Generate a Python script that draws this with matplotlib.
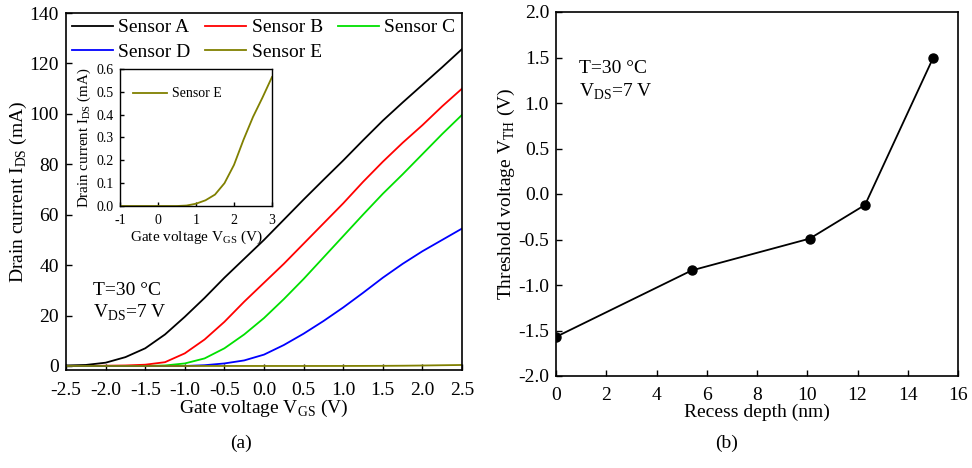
import matplotlib
matplotlib.use("Agg")
import matplotlib.pyplot as plt
import numpy as np

plt.rcParams["font.family"] = ["Liberation Serif", "DejaVu Serif"]
plt.rcParams["mathtext.fontset"] = "custom"
plt.rcParams["mathtext.rm"] = "Liberation Serif"
plt.rcParams["axes.unicode_minus"] = False

# (a) transfer curves, gate voltage in V, drain current in mA
vgs = [-2.5, -2.25, -2.0, -1.75, -1.5, -1.25, -1.0, -0.75, -0.5, -0.25, 0.0,
       0.25, 0.5, 0.75, 1.0, 1.25, 1.5, 1.75, 2.0, 2.25, 2.5, 2.75, 3.0]
sensor_a = [0.2, 0.4, 1.3, 3.5, 7.0, 12.5, 19.5, 27.0, 35.0, 42.5, 50.0,
            58.0, 66.0, 73.8, 81.5, 89.5, 97.3, 104.5, 111.5, 118.5, 125.7, np.nan, np.nan]
sensor_b = [0.0, 0.0, 0.1, 0.2, 0.5, 1.5, 5.0, 10.5, 17.5, 25.5, 33.0,
            40.5, 48.5, 56.5, 64.5, 73.0, 81.0, 88.5, 95.5, 103.0, 110.0, np.nan, np.nan]
sensor_c = [0.0, 0.0, 0.0, 0.0, 0.0, 0.2, 1.0, 3.0, 7.0, 12.5, 19.0,
            26.5, 34.5, 43.0, 51.5, 60.0, 68.3, 76.0, 84.0, 92.0, 99.6, np.nan, np.nan]
sensor_d = [0.0, 0.0, 0.0, 0.0, 0.0, 0.0, 0.0, 0.3, 1.0, 2.2, 4.5,
            8.3, 12.8, 17.8, 23.2, 29.0, 35.0, 40.5, 45.5, 50.0, 54.5, np.nan, np.nan]
sensor_e = [0.0, 0.0, 0.0, 0.0, 0.0, 0.0, 0.0, 0.0, 0.0, 0.0, 0.0,
            0.0, 0.0, 0.002, 0.01, 0.025, 0.05, 0.1, 0.18, 0.29, 0.39, 0.475, 0.565]

# (b) threshold voltage vs recess depth
depth = [0.0, 5.4, 10.1, 12.3, 15.0]
vth = [-1.57, -0.84, -0.49, -0.12, 1.49]

fig = plt.figure(figsize=(9.72, 4.68), dpi=100)

def style(ax, size, lw=1.2):
    for s in ax.spines.values():
        s.set_linewidth(lw)
    ax.tick_params(direction="in", length=4, width=1.0, labelsize=size, pad=5,
                   top=False, right=False)

# ---- panel (a)
ax1 = fig.add_axes([66 / 972, 98 / 468, 396 / 972, 357 / 468])
lines = []
for vals, col, lab in [(sensor_a, "black", "Sensor A"), (sensor_b, "#ff0000", "Sensor B"),
                       (sensor_c, "#00e000", "Sensor C"), (sensor_d, "#0000ff", "Sensor D"),
                       (sensor_e, "#808000", "Sensor E")]:
    ln, = ax1.plot(vgs, vals, color=col, lw=1.3, label=lab)
    lines.append(ln)
ax1.set_xlim(-2.5, 2.5)
ax1.set_ylim(-1.6, 140)
ax1.set_xticks(np.arange(-2.5, 2.51, 0.5))
ax1.set_xticklabels([f"{v:.1f}" for v in np.arange(-2.5, 2.51, 0.5)])
ax1.set_yticks(np.arange(0, 141, 20))
style(ax1, 14)
ax1.tick_params(axis="x", pad=8.5)
ax1.set_xlabel(r"Gate voltage V$_{\mathrm{GS}}$ (V)", fontsize=14)
ax1.set_ylabel(r"Drain current I$_{\mathrm{DS}}$ (mA)", fontsize=14)
ax1.xaxis.set_label_coords(0.5, -0.078)
ax1.yaxis.set_label_coords(-0.093, 0.5)
# reorder so the 3-column legend reads row by row
order = [0, 3, 1, 4, 2]
ax1.legend([lines[i] for i in order], [lines[i].get_label() for i in order],
           loc="upper left", bbox_to_anchor=(0, 1), ncol=3, frameon=False, fontsize=14,
           handlelength=2.1, handletextpad=0.3, columnspacing=0.75, labelspacing=0.35,
           borderpad=0.1, borderaxespad=0.2)
ax1.text(0.068, 0.21, "T=30 °C", transform=ax1.transAxes, fontsize=14, va="baseline")
ax1.text(0.068, 0.146, r"V$_{\mathrm{DS}}$=7 V", transform=ax1.transAxes, fontsize=14,
         va="baseline")

# inset
axi = fig.add_axes([120 / 972, 262 / 468, 152 / 972, 137 / 468])
axi.plot(vgs, sensor_e, color="#808000", lw=1.3, label="Sensor E")
axi.set_xlim(-1, 3)
axi.set_ylim(0, 0.6)
axi.set_xticks([-1, 0, 1, 2, 3])
axi.set_yticks(np.arange(0, 0.61, 0.1))
axi.set_yticklabels([f"{v:.1f}" for v in np.arange(0, 0.61, 0.1)])
style(axi, 10, lw=1.0)
axi.tick_params(length=3, pad=4.5)
axi.tick_params(axis="x", pad=5.5)
axi.set_xlabel(r"Gate voltage V$_{\mathrm{GS}}$ (V)", fontsize=11)
axi.set_ylabel(r"Drain current I$_{\mathrm{DS}}$ (mA)", fontsize=10.8)
axi.xaxis.set_label_coords(0.5, -0.165)
axi.yaxis.set_label_coords(-0.18, 0.5)
axi.legend(loc="center left", frameon=False, fontsize=10, handlelength=2.45,
           handletextpad=0.35, borderaxespad=0, borderpad=0, bbox_to_anchor=(0.085, 0.818))

# ---- panel (b)
ax2 = fig.add_axes([556 / 972, 92 / 468, 402 / 972, 364 / 468])
ax2.plot(depth, vth, color="black", lw=1.3, marker="o", markersize=6.5, clip_on=True)
ax2.set_xlim(0, 16)
ax2.set_ylim(-2, 2)
ax2.set_xticks(np.arange(0, 17, 2))
ax2.set_yticks(np.arange(-2, 2.01, 0.5))
ax2.set_yticklabels([f"{v:.1f}" for v in np.arange(-2, 2.01, 0.5)])
style(ax2, 14)
ax2.tick_params(axis="x", pad=8)
ax2.set_xlabel("Recess depth (nm)", fontsize=14)
ax2.set_ylabel(r"Threshold voltage V$_{\mathrm{TH}}$ (V)", fontsize=14)
ax2.xaxis.set_label_coords(0.5, -0.075)
ax2.yaxis.set_label_coords(-0.096, 0.5)
ax2.text(0.057, 0.832, "T=30 °C", transform=ax2.transAxes, fontsize=14, va="baseline")
ax2.text(0.057, 0.766, r"V$_{\mathrm{DS}}$=7 V", transform=ax2.transAxes, fontsize=14,
         va="baseline")

fig.text(241 / 972, 1 - 443 / 468, "(a)", ha="center", va="center", fontsize=14)
fig.text(727 / 972, 1 - 443 / 468, "(b)", ha="center", va="center", fontsize=14)

fig.savefig("out.png", dpi=100)
